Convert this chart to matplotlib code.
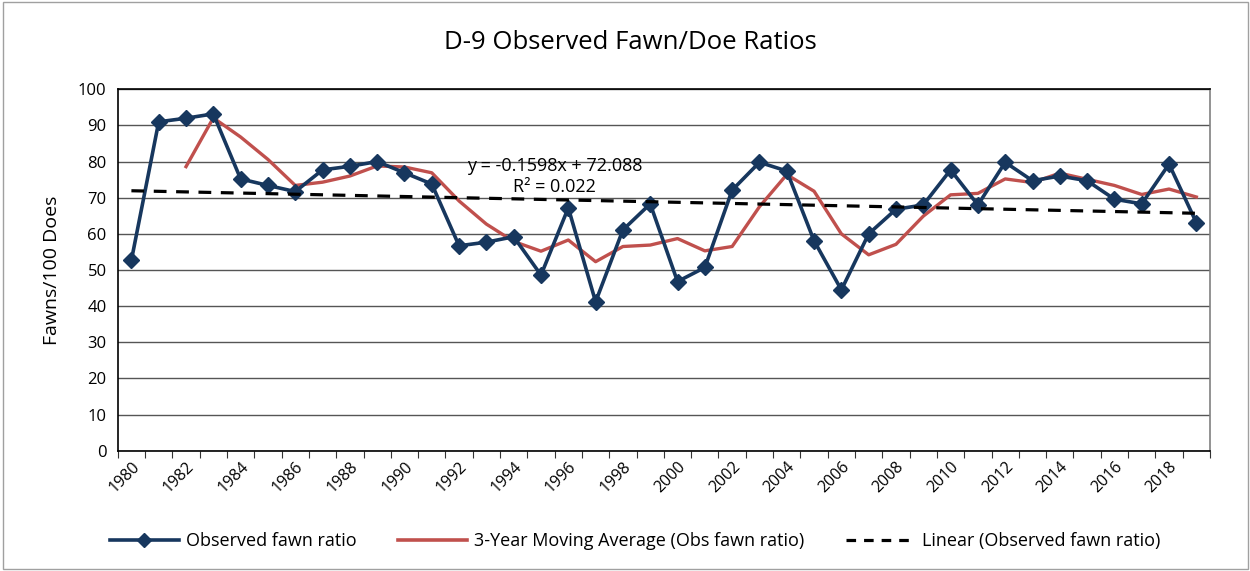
import matplotlib
matplotlib.use("Agg")
import matplotlib.pyplot as plt
from matplotlib.lines import Line2D
from matplotlib.patches import Rectangle
import numpy as np

plt.rcParams['font.family'] = ['Open Sans', 'DejaVu Sans']

years = list(range(1980, 2020))
observed = [52.7, 91.0, 92.0, 93.2, 75.2, 73.4, 71.7, 77.7, 78.7, 80.0,
            76.9, 73.8, 56.7, 57.7, 59.2, 48.6, 67.2, 41.2, 61.1, 68.3,
            46.8, 50.7, 72.1, 79.8, 77.4, 58.1, 44.5, 60.0, 66.8, 68.0,
            77.7, 68.0, 79.8, 74.7, 76.0, 74.7, 69.6, 68.3, 79.3, 63.1]
moving_avg = [None, None, 78.6, 92.1, 86.8, 80.6, 73.4, 74.3, 76.0, 78.8,
              78.5, 76.9, 69.1, 62.7, 57.9, 55.2, 58.3, 52.3, 56.5, 56.9,
              58.7, 55.3, 56.5, 67.5, 76.4, 71.8, 60.0, 54.2, 57.1, 64.9,
              70.8, 71.2, 75.2, 74.2, 76.8, 75.1, 73.4, 70.9, 72.4, 70.2]
trend_slope = -0.1598
trend_intercept = 72.088
tick_labels = [str(y) for y in range(1980, 2020, 2)]

NAVY = '#17375E'
RED = '#C0504D'

fig = plt.figure(figsize=(12.5, 5.71), dpi=100)
ax = fig.add_axes([0.0942, 0.2107, 0.968 - 0.0942, 0.8436 - 0.2107])

n = len(years)
xc = np.arange(n) + 0.5
ax.plot(xc, observed, color=NAVY, lw=2.6, marker='D', ms=8, mfc=NAVY, mec=NAVY, zorder=4)
ma_x = [x for x, v in zip(xc, moving_avg) if v is not None]
ma_y = [v for v in moving_avg if v is not None]
ax.plot(ma_x, ma_y, color=RED, lw=2.4, zorder=3)
xi = np.arange(1, n + 1)
ax.plot(xc, trend_slope * xi + trend_intercept, color='black', lw=2.3,
        dashes=(4, 3), zorder=5)

ax.set_xlim(0, n)
ax.set_ylim(0, 100)
ax.set_yticks(range(0, 101, 10))
ax.yaxis.grid(True, color='#555555', lw=1.0)
ax.set_axisbelow(True)
ax.tick_params(axis='y', length=0, labelsize=12, pad=8)

ax.set_xticks(np.arange(0, n + 1), minor=False)
ax.set_xticklabels([])
ax.tick_params(axis='x', which='major', length=5, color='#333333', direction='out')
ax.set_xticks(xc[::2], minor=True)
ax.set_xticklabels(tick_labels, minor=True, rotation=45, ha='right',
                   rotation_mode='anchor', fontsize=11.5)
ax.tick_params(axis='x', which='minor', length=0, pad=6)

for s in ['left', 'bottom', 'top']:
    ax.spines[s].set_color('black')
    ax.spines[s].set_linewidth(1.2)
ax.spines['right'].set_color('#808080')
ax.spines['right'].set_linewidth(1.2)

ax.set_ylabel('Fawns/100 Does', fontsize=14, labelpad=12)

fig.text(0.504, 0.926, 'D-9 Observed Fawn/Doe Ratios', ha='center', va='center', fontsize=18.5)

ax.text(16.0, 78.8, 'y = -0.1598x + 72.088', ha='center', va='center', fontsize=13)
ax.text(16.0, 72.9, 'R² = 0.022', ha='center', va='center', fontsize=13)

handles = [
    Line2D([], [], color=NAVY, lw=2.6, marker='D', ms=7),
    Line2D([], [], color=RED, lw=2.6),
    Line2D([], [], color='black', lw=2.3, dashes=(3, 2.5)),
]
labels = ['Observed fawn ratio', '3-Year Moving Average (Obs fawn ratio)',
          'Linear (Observed fawn ratio)']
fig.legend(handles, labels, loc='center', bbox_to_anchor=(0.508, 0.052),
           ncol=3, frameon=False, fontsize=13, handlelength=3.8,
           columnspacing=2.3, handletextpad=0.4)

fig.patches.append(Rectangle((0.002, 0.003), 0.996, 0.994, transform=fig.transFigure,
                             fill=False, edgecolor='#A0A0A0', lw=1.0))

fig.savefig('out.png', dpi=100)
